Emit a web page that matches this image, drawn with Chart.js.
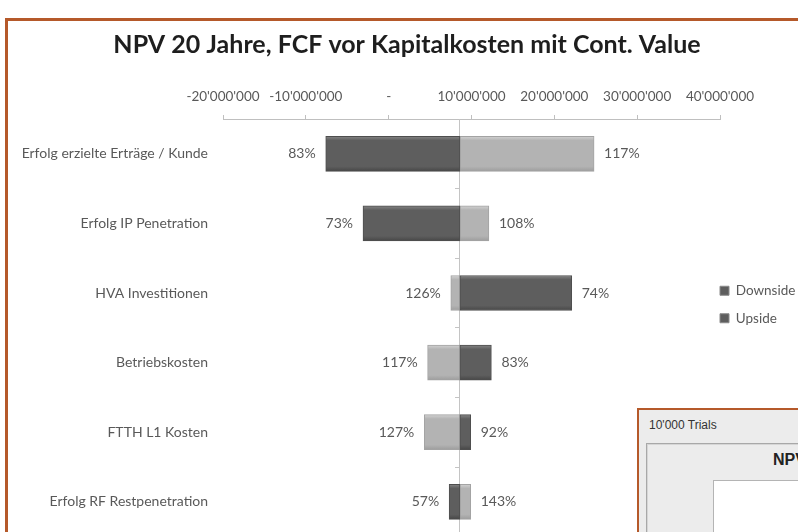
<!DOCTYPE html>
<html>
<head>
<meta charset="utf-8">
<script src="https://cdn.jsdelivr.net/npm/chart.js"></script>
<style>
  html, body { margin: 0; padding: 0; background: #ffffff; width: 798px; height: 532px; overflow: hidden; }
  body { position: relative; }
  #frame { position: absolute; left: 5px; top: 18px; width: 900px; height: 700px; border: 3px solid #b5592a; box-sizing: border-box; background: #ffffff; }
  #chart { position: absolute; left: 0; top: 0; }
  #inset { position: absolute; left: 637px; top: 408px; width: 300px; height: 200px; border: 2px solid #b5592a; background: #ececec; box-sizing: border-box; font-family: "Liberation Sans", Arial, sans-serif; }
  #inset .trials { position: absolute; left: 10px; top: 8px; font-size: 12px; color: #333333; }
  #inset .panel { position: absolute; left: 7px; top: 33px; width: 300px; height: 200px; border: 1px solid #a8a8a8; box-shadow: inset 1px 1px 0 #d6d6d6; }
  #inset .npv { position: absolute; left: 126px; top: 7px; font-size: 16px; font-weight: bold; color: #222222; white-space: nowrap; }
  #inset .plot { position: absolute; left: 66px; top: 36px; width: 300px; height: 200px; border: 1px solid #b4b4b4; background: #ffffff; }
</style>
</head>
<body>
<div id="frame"></div>
<canvas id="chart" width="798" height="560"></canvas>
<div id="inset">
  <div class="trials">10'000 Trials</div>
  <div class="panel">
    <div class="npv">NPV 20 Jahre</div>
    <div class="plot"></div>
  </div>
</div>
<script>
// Tornado-Diagramm: NPV-Sensitivitaet je Treiber
const categories = [
    'Erfolg erzielte Erträge / Kunde',
    'Erfolg IP Penetration',
    'HVA Investitionen',
    'Betriebskosten',
    'FTTH L1 Kosten',
    'Erfolg RF Restpenetration'
];
const baseNpv = 8.6e6;
const downsideNpv = [-7.6e6, -3.1e6, 22.1e6, 12.4e6, 9.9e6, 7.3e6];
const upsideNpv = [24.8e6, 12.1e6, 7.5e6, 4.7e6, 4.3e6, 9.9e6];
const downsidePct = ['83%', '73%', '74%', '83%', '92%', '57%'];
const upsidePct = ['117%', '108%', '126%', '117%', '127%', '143%'];
const seriesNames = ['Downside', 'Upside'];
const xMin = -20e6, xMax = 40e6, xStep = 10e6;

const FONT = 'Lato';
const pctLabels = [downsidePct, upsidePct];

function fmtAxis(v) {
    if (v === 0) return '-';
    const s = Math.abs(v).toFixed(0).replace(/\B(?=(\d{3})+(?!\d))/g, "'");
    return (v < 0 ? '-' : '') + s;
}

// Excel-artiger Balken mit hellem Oberrand
function barFill(top, mid, bottom) {
    return (context) => {
        const chart = context.chart;
        if (context.type !== 'data' || !chart.chartArea) return mid;
        const y = chart.scales.y.getPixelForValue(context.dataIndex);
        const g = chart.ctx.createLinearGradient(0, y - 17.5, 0, y + 17.5);
        g.addColorStop(0, top);
        g.addColorStop(0.12, mid);
        g.addColorStop(0.86, mid);
        g.addColorStop(1, bottom);
        return g;
    };
}

const pctLabelPlugin = {
    id: 'pctLabels',
    afterDatasetsDraw(chart) {
        const c = chart.ctx;
        const xs = chart.scales.x;
        const basePx = xs.getPixelForValue(baseNpv);
        chart.data.datasets.forEach((ds, di) => {
            const meta = chart.getDatasetMeta(di);
            meta.data.forEach((bar, i) => {
                const px = xs.getPixelForValue(ds.data[i][1]);
                const left = px < basePx;
                c.save();
                c.font = '14px ' + FONT;
                c.fillStyle = '#595959';
                c.textBaseline = 'middle';
                c.textAlign = left ? 'right' : 'left';
                c.fillText(pctLabels[di][i], left ? px - 10 : px + 10, bar.y);
                c.restore();
            });
        });
    }
};

// Legende direkt an die 40-Mio-Marke schieben
const legendShift = {
    id: 'legendShift',
    afterLayout(chart) {
        const lg = chart.legend;
        const dx = lg.options.labels.padding;
        lg.left -= dx;
        lg.width += dx;
    }
};

new Chart(document.getElementById('chart'), {
    type: 'bar',
    data: {
        labels: categories,
        datasets: [
            {
                label: seriesNames[0],
                data: downsideNpv.map(v => [baseNpv, v]),
                backgroundColor: barFill('#858585', '#5e5e5e', '#474747'),
                borderColor: '#4e4e4e',
                borderWidth: 1,
                borderSkipped: false,
                grouped: false,
                barThickness: 35
            },
            {
                label: seriesNames[1],
                data: upsideNpv.map(v => [baseNpv, v]),
                backgroundColor: barFill('#d2d2d2', '#b3b3b3', '#9d9d9d'),
                borderColor: '#a3a3a3',
                borderWidth: 1,
                borderSkipped: false,
                grouped: false,
                barThickness: 35
            }
        ]
    },
    options: {
        indexAxis: 'y',
        responsive: false,
        animation: false,
        layout: { padding: { left: 16, top: 0, right: 0, bottom: 20 } },
        scales: {
            x: {
                position: 'top',
                min: xMin,
                max: xMax,
                ticks: {
                    stepSize: xStep,
                    callback: fmtAxis,
                    color: '#595959',
                    font: { family: FONT, size: 13.5 },
                    padding: 10,
                    autoSkip: false,
                    maxRotation: 0
                },
                grid: { drawOnChartArea: false, tickLength: 4, color: '#bfbfbf' },
                border: { color: '#bfbfbf' },
                afterFit: (s) => { s.height = 49; }
            },
            y: {
                ticks: { color: '#595959', font: { family: FONT, size: 14 }, padding: 15 },
                grid: { display: false, drawTicks: false },
                border: { display: false },
                afterFit: (s) => { s.width = 207; }
            },
            yBase: {
                type: 'category',
                axis: 'y',
                position: { x: baseNpv },
                offset: true,
                ticks: { display: false },
                grid: { offset: true, drawOnChartArea: false, tickLength: 4, color: '#c4c4c4' },
                border: { color: '#c4c4c4' }
            }
        },
        plugins: {
            title: {
                display: true,
                text: 'NPV 20 Jahre, FCF vor Kapitalkosten mit Cont. Value',
                color: '#1e1e1e',
                font: { family: FONT, size: 25, weight: 'bold', lineHeight: 1.2 },
                padding: { top: 30, bottom: 10 }
            },
            legend: {
                position: 'right',
                align: 'start',
                maxWidth: 78,
                title: { display: true, text: ' ', font: { size: 10, lineHeight: 1 }, padding: { top: 260, bottom: 0 } },
                labels: {
                    boxWidth: 9,
                    boxHeight: 9,
                    padding: 14,
                    color: '#595959',
                    font: { family: FONT, size: 13.5 },
                    generateLabels: (chart) => Chart.defaults.plugins.legend.labels.generateLabels(chart)
                        .map(l => Object.assign(l, { fillStyle: '#5e5e5e', strokeStyle: '#8a8a8a', lineWidth: 1 }))
                }
            },
            tooltip: { enabled: false }
        }
    },
    plugins: [pctLabelPlugin, legendShift]
});
</script>
</body>
</html>
